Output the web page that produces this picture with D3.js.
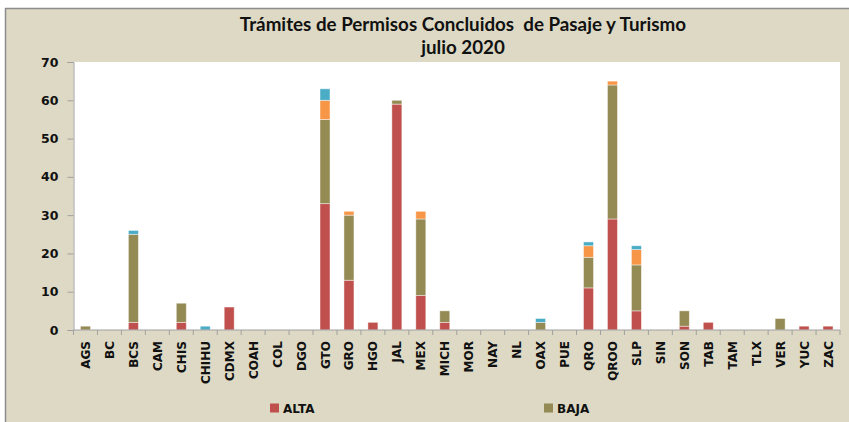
<!DOCTYPE html>
<html>
<head>
<meta charset="utf-8">
<script src="https://cdn.jsdelivr.net/npm/d3@7/dist/d3.min.js"></script>
<style>
  html, body { margin: 0; padding: 0; background: #ffffff; }
  svg { display: block; }
</style>
</head>
<body>
<svg id="chart" width="849" height="422"></svg>
<script>
// Entidades federativas
const categories = ["AGS","BC","BCS","CAM","CHIS","CHIHU","CDMX","COAH","COL","DGO","GTO","GRO","HGO","JAL","MEX","MICH","MOR","NAY","NL","OAX","PUE","QRO","QROO","SLP","SIN","SON","TAB","TAM","TLX","VER","YUC","ZAC"];

// Trámites concluidos por tipo
const alta  = [0,0,2,0,2,0,6,0,0,0,33,13,2,59,9,2,0,0,0,0,0,11,29,5,0,1,2,0,0,0,1,1];
const baja  = [1,0,23,0,5,0,0,0,0,0,22,17,0,1,20,3,0,0,0,2,0,8,35,12,0,4,0,0,0,3,0,0];
const tipo3 = [0,0,0,0,0,0,0,0,0,0,5,1,0,0,2,0,0,0,0,0,0,3,1,4,0,0,0,0,0,0,0,0];
const tipo4 = [0,0,1,0,0,1,0,0,0,0,3,0,0,0,0,0,0,0,0,1,0,1,0,1,0,0,0,0,0,0,0,0];

const seriesKeys = ["ALTA","BAJA","TIPO3","TIPO4"];
const seriesColors = ["#C0504D","#948A54","#F79646","#4BACC6"];
const legendKeys = ["ALTA","BAJA"];
const yTicks = [0,10,20,30,40,50,60,70];

const titleLines = ["Trámites de Permisos Concluidos  de Pasaje y Turismo", "julio 2020"];

const rows = categories.map((c, i) => ({
  cat: c, ALTA: alta[i], BAJA: baja[i], TIPO3: tipo3[i], TIPO4: tipo4[i]
}));

const svg = d3.select("#chart");

// Chart area background with border on top/left
svg.append("rect").attr("x", 5).attr("y", 8).attr("width", 844).attr("height", 414)
  .attr("fill", "#DDD9C4");
svg.append("line").attr("x1", 5).attr("x2", 849).attr("y1", 8.5).attr("y2", 8.5)
  .attr("stroke", "#8c8c8c").attr("stroke-width", 1.5);
svg.append("line").attr("x1", 5.5).attr("x2", 5.5).attr("y1", 8).attr("y2", 422)
  .attr("stroke", "#8c8c8c").attr("stroke-width", 1.5);

const plot = { left: 73.5, right: 840, top: 62, bottom: 330 };

svg.append("rect")
  .attr("x", plot.left).attr("y", plot.top)
  .attr("width", plot.right - plot.left).attr("height", plot.bottom - plot.top)
  .attr("fill", "#ffffff");

const xBand = d3.scaleBand().domain(categories).range([plot.left, plot.right]);
const y = d3.scaleLinear().domain([0, 70]).range([plot.bottom, plot.top]);

const stack = d3.stack().keys(seriesKeys);
const stacked = stack(rows);

const g = svg.append("g");
g.selectAll("g.series")
  .data(stacked)
  .join("g")
  .attr("class", "series")
  .attr("fill", (d, i) => seriesColors[i])
  .selectAll("rect")
  .data(d => d.filter(p => p[1] - p[0] > 0))
  .join("rect")
  .attr("x", d => xBand(d.data.cat) + (xBand.bandwidth() - 10) / 2)
  .attr("width", 10)
  .attr("y", d => y(d[1]))
  .attr("height", d => y(d[0]) - y(d[1]))
  .attr("stroke", "rgba(255,255,255,0.55)")
  .attr("stroke-width", 0.8);

// Y axis
const yAxis = d3.axisLeft(y).tickValues(yTicks).tickSize(6).tickPadding(9);
const yg = svg.append("g").attr("transform", `translate(${plot.left},0)`).call(yAxis);
yg.select(".domain").attr("stroke", "#a0a0a0");
yg.selectAll(".tick line").attr("stroke", "#a0a0a0");
yg.selectAll(".tick text")
  .attr("font-family", "DejaVu Sans").attr("font-weight", "bold").attr("font-size", 12.5)
  .attr("fill", "#111");

// X axis: ticks between categories
const xg = svg.append("g");
xg.append("line").attr("x1", plot.left).attr("x2", plot.right)
  .attr("y1", plot.bottom).attr("y2", plot.bottom).attr("stroke", "#a0a0a0");
const bounds = categories.map(c => xBand(c)).concat([plot.right]);
xg.selectAll("line.tk").data(bounds).join("line").attr("class", "tk")
  .attr("x1", d => d).attr("x2", d => d)
  .attr("y1", plot.bottom).attr("y2", plot.bottom + 5)
  .attr("stroke", "#a0a0a0");
xg.selectAll("text").data(categories).join("text")
  .attr("transform", d => `translate(${xBand(d) + xBand.bandwidth() / 2 + 4.5},${plot.bottom + 11}) rotate(-90)`)
  .attr("text-anchor", "end")
  .attr("font-family", "DejaVu Sans").attr("font-weight", "bold").attr("font-size", 12)
  .attr("fill", "#111")
  .text(d => d);

// Title
svg.append("text")
  .attr("x", 463).attr("y", 31).attr("text-anchor", "middle")
  .attr("font-family", "Lato").attr("font-weight", "bold").attr("font-size", 18.8)
  .attr("fill", "#111").style("white-space", "pre")
  .text(titleLines[0]);
svg.append("text")
  .attr("x", 463).attr("y", 54).attr("text-anchor", "middle")
  .attr("font-family", "Lato").attr("font-weight", "bold").attr("font-size", 18.8)
  .attr("fill", "#111")
  .text(titleLines[1]);

// Legend
const legendPos = [270, 544];
const lg = svg.append("g");
legendKeys.forEach((k, i) => {
  const lx = legendPos[i];
  lg.append("rect").attr("x", lx).attr("y", 403.5).attr("width", 9).attr("height", 9)
    .attr("fill", seriesColors[seriesKeys.indexOf(k)]);
  lg.append("text").attr("x", lx + 13).attr("y", 413)
    .attr("font-family", "DejaVu Sans").attr("font-weight", "bold").attr("font-size", 12)
    .attr("fill", "#111").text(k);
});
</script>
</body>
</html>
